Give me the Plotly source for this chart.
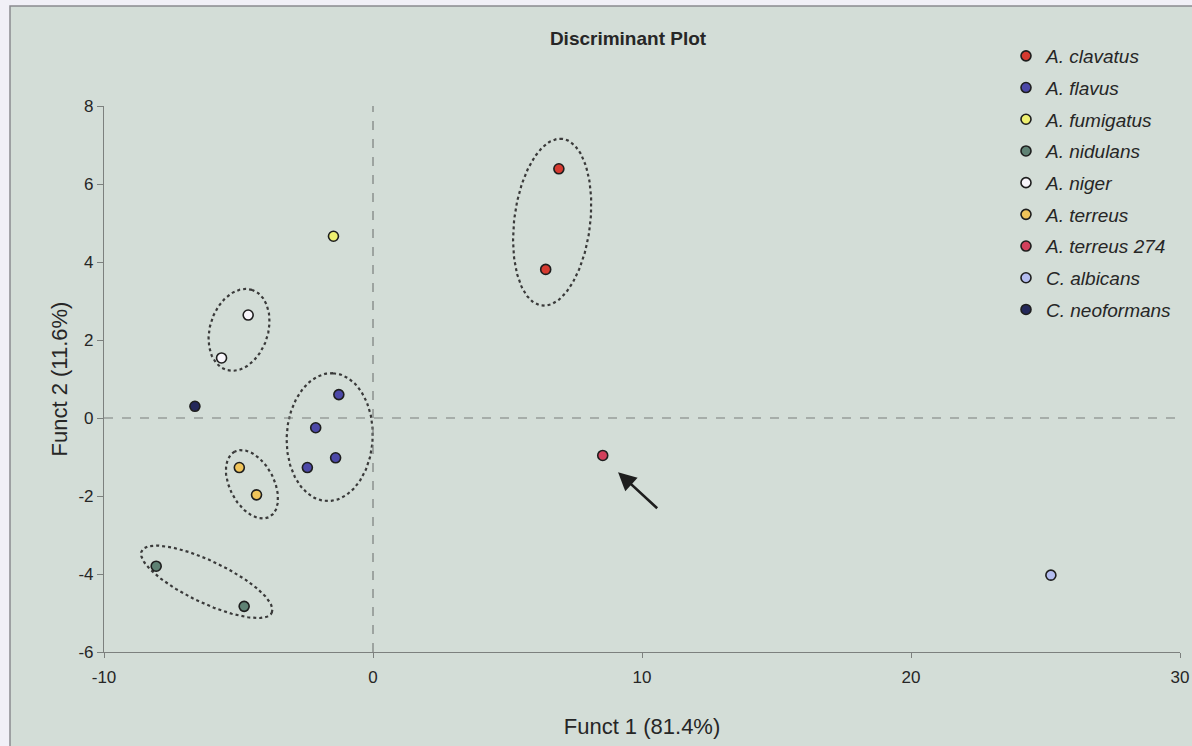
import numpy as np
import plotly.graph_objects as go

# ---------------- data ----------------
species = ["A. clavatus", "A. flavus", "A. fumigatus", "A. nidulans", "A. niger",
           "A. terreus", "A. terreus 274", "C. albicans", "C. neoformans"]
funct1 = {
    "A. clavatus": [6.91, 6.42],
    "A. flavus": [-1.27, -2.13, -1.39, -2.44],
    "A. fumigatus": [-1.47],
    "A. nidulans": [-8.06, -4.79],
    "A. niger": [-4.64, -5.63],
    "A. terreus": [-4.97, -4.33],
    "A. terreus 274": [8.54],
    "C. albicans": [25.2],
    "C. neoformans": [-6.62],
}
funct2 = {
    "A. clavatus": [6.39, 3.81],
    "A. flavus": [0.60, -0.25, -1.02, -1.27],
    "A. fumigatus": [4.66],
    "A. nidulans": [-3.80, -4.83],
    "A. niger": [2.64, 1.54],
    "A. terreus": [-1.27, -1.97],
    "A. terreus 274": [-0.96],
    "C. albicans": [-4.03],
    "C. neoformans": [0.30],
}
colors = {
    "A. clavatus": "#d63a30",
    "A. flavus": "#4c48a8",
    "A. fumigatus": "#eef070",
    "A. nidulans": "#5f8274",
    "A. niger": "#f8f6fb",
    "A. terreus": "#f0c45a",
    "A. terreus 274": "#d2405c",
    "C. albicans": "#b4bdf0",
    "C. neoformans": "#24285a",
}
x_ticks = [-10, 0, 10, 20, 30]
y_ticks = [-6, -4, -2, 0, 2, 4, 6, 8]

# group ellipses: centre (data), semi-axes (in pixel-like units), angle (deg, screen)
ellipse_cx = [6.66, -4.98, -1.61, -4.50, -6.18]
ellipse_cy = [5.02, 2.26, -0.49, -1.70, -4.20]
ellipse_a = [84, 42, 64, 37, 72]
ellipse_b = [38, 29, 43, 22, 21]
ellipse_ang = [83, 72, 87, 118, -25.4]

# arrow (head / tail) in data units
arrow_head = (9.11, -1.39)
arrow_tail = (10.62, -2.35)

# ---------------- layout constants ----------------
W, H = 1192, 746
ML, MR, MT, MB = 104, 12, 106, 94
XR = [-10, 30]
YR = [-6, 8]
pw = W - ML - MR
ph = H - MT - MB
sx = pw / (XR[1] - XR[0])
sy = ph / (YR[1] - YR[0])

FONT = "Liberation Sans, Arial, sans-serif"
TXT = "#262626"

fig = go.Figure()

# ellipses
t = np.linspace(0, 2 * np.pi, 200)
for cx, cy, a, b, ang in zip(ellipse_cx, ellipse_cy, ellipse_a, ellipse_b, ellipse_ang):
    th = np.deg2rad(ang)
    px = a * np.cos(t) * np.cos(th) - b * np.sin(t) * np.sin(th)
    py = a * np.cos(t) * np.sin(th) + b * np.sin(t) * np.cos(th)
    fig.add_trace(go.Scatter(
        x=cx + px / sx, y=cy + py / sy, mode="lines",
        line=dict(color="#3a3a3a", width=2.2, dash="dot"),
        hoverinfo="skip", showlegend=False))

for i, sp in enumerate(species):
    fig.add_trace(go.Scatter(
        x=funct1[sp], y=funct2[sp], mode="markers", name=sp,
        legendgroup=sp,
        marker=dict(size=10, color=colors[sp], line=dict(color="#1e1e1e", width=1.6)),
    ))

# dashed zero lines
fig.add_shape(type="line", xref="x", yref="y", x0=0, x1=0, y0=YR[0], y1=YR[1],
              line=dict(color="#7a7e7c", width=1.2, dash="dash"))
fig.add_shape(type="line", xref="x", yref="y", x0=XR[0], x1=XR[1], y0=0, y1=0,
              line=dict(color="#7a7e7c", width=1.2, dash="dash"))

# page frame: greenish panel with a thin border, white strip left/top
fig.add_shape(type="rect", xref="paper", yref="paper", layer="below",
              x0=(10 - ML) / pw, x1=(W + 5 - ML) / pw,
              y0=(H - MB - (H + 5)) / ph, y1=(H - MB - 6) / ph,
              fillcolor="#d3ddd7", line=dict(color="#8a8a90", width=1.5))

fig.add_annotation(x=arrow_head[0], y=arrow_head[1], ax=arrow_tail[0], ay=arrow_tail[1],
                   xref="x", yref="y", axref="x", ayref="y", text="",
                   showarrow=True, arrowhead=2, arrowsize=1.4, arrowwidth=2.6,
                   arrowcolor="#1e1e1e")

fig.update_layout(
    width=W, height=H,
    margin=dict(l=ML, r=MR, t=MT, b=MB),
    paper_bgcolor="#f1f0f7",
    plot_bgcolor="rgba(0,0,0,0)",
    font=dict(family=FONT, color=TXT),
    title=dict(text="<b>Discriminant Plot</b>", x=628 / W, xanchor="center",
               y=1 - 38 / H, yanchor="middle", font=dict(size=19, color=TXT)),
    legend=dict(x=(1006 - ML) / pw, xanchor="left", y=(H - MB - 37) / ph, yanchor="top",
                font=dict(size=19, style="italic", color=TXT),
                bgcolor="rgba(0,0,0,0)", tracegroupgap=4, itemwidth=30),
    showlegend=True,
    xaxis=dict(range=XR, tickvals=x_ticks, ticktext=[str(v) for v in x_ticks],
               showgrid=False, zeroline=False, showline=True, linecolor="#7c807e",
               linewidth=1.2, ticks="outside", ticklen=5, tickcolor="#7c807e",
               ticklabelstandoff=4, ticklabeloverflow="allow", automargin=False,
               tickfont=dict(size=17, color=TXT),
               title=dict(text="Funct 1 (81.4%)", font=dict(size=22, color=TXT),
                          standoff=33)),
    yaxis=dict(range=YR, tickvals=y_ticks, ticktext=[str(v) for v in y_ticks],
               showgrid=False, zeroline=False, showline=True, linecolor="#7c807e",
               linewidth=1.2, ticks="outside", ticklen=6, tickcolor="#7c807e",
               automargin=False,
               tickfont=dict(size=17, color=TXT),
               title=dict(text="Funct 2 (11.6%)", font=dict(size=22, color=TXT),
                          standoff=4)),
)

fig.write_html("out.html")
